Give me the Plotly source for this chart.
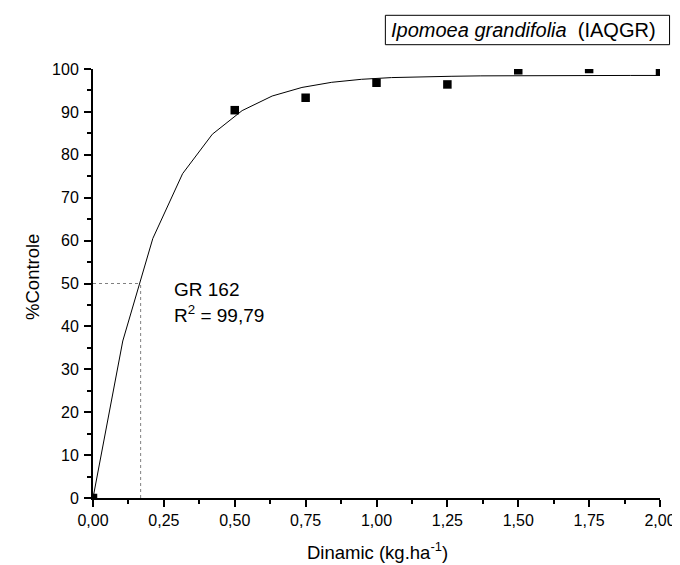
import plotly.graph_objects as go

# ---- data ----
dose_obs = [0.0, 0.50, 0.75, 1.00, 1.25, 1.50, 1.75, 2.00]
control_obs = [0.0, 90.4, 93.3, 96.8, 96.4, 99.7, 100.0, 99.4]

dose_fit = [0.0, 0.105, 0.211, 0.316, 0.421, 0.526, 0.632, 0.737, 0.842, 0.947,
            1.053, 1.158, 1.263, 1.368, 1.474, 1.579, 1.684, 1.789, 1.895, 2.0]
control_fit = [0.0, 36.6, 60.5, 75.6, 84.8, 90.3, 93.7, 95.7, 96.9, 97.6,
               98.0, 98.2, 98.3, 98.4, 98.45, 98.5, 98.5, 98.5, 98.5, 98.5]

gr50_dose = 0.168
gr50_level = 50

x_ticks = [0.0, 0.25, 0.5, 0.75, 1.0, 1.25, 1.5, 1.75, 2.0]
x_ticklabels = ["0,00", "0,25", "0,50", "0,75", "1,00", "1,25", "1,50", "1,75", "2,00"]
y_ticks = [0, 10, 20, 30, 40, 50, 60, 70, 80, 90, 100]

title_text = "<i>Ipomoea grandifolia</i>&nbsp; (IAQGR)"
gr_text = "GR 162"
r2_text = "R<sup>2</sup> = 99,79"
x_title = "Dinamic (kg.ha<sup>-1</sup>)"
y_title = "%Controle"

# ---- layout geometry (pixels) ----
W, H = 680, 565
ML, MR, MT, MB = 85, 19, 61, 75
L, R, T, B = ML, W - MR, MT, H - MB


def px_x(px):
    return (px - L) / (R - L)


def px_y(py):
    return (B - py) / (B - T)


FONT = "Liberation Sans, Arial, sans-serif"

fig = go.Figure()

fig.add_trace(go.Scatter(
    x=dose_fit, y=control_fit, mode="lines",
    line=dict(color="black", width=1), showlegend=False, hoverinfo="skip"))

fig.add_trace(go.Scatter(
    x=dose_obs, y=control_obs, mode="markers",
    marker=dict(symbol="square", size=8.5, color="black", line=dict(width=0)),
    showlegend=False, cliponaxis=True))

# GR50 guide lines
fig.add_shape(type="line", xref="x", yref="y", x0=0, x1=gr50_dose, y0=gr50_level, y1=gr50_level,
              line=dict(color="#808080", width=1, dash="dot"), layer="below")
fig.add_shape(type="line", xref="x", yref="y", x0=gr50_dose, x1=gr50_dose, y0=0, y1=gr50_level,
              line=dict(color="#808080", width=1, dash="dot"), layer="below")

# title box
fig.add_shape(type="rect", xref="paper", yref="paper",
              x0=px_x(382), x1=px_x(670.7), y0=px_y(36.7), y1=px_y(7.3),
              line=dict(color="black", width=1), fillcolor="white")
fig.add_annotation(x=px_x(386), y=px_y(22), xref="paper", yref="paper",
                   text=title_text, showarrow=False, xanchor="left", yanchor="middle",
                   font=dict(family=FONT, size=20, color="black"))

# GR / R2 text
fig.add_annotation(x=px_x(165), y=px_y(281), xref="paper", yref="paper",
                   text=gr_text, showarrow=False, xanchor="left", yanchor="middle",
                   font=dict(family=FONT, size=19, color="black"))
fig.add_annotation(x=px_x(165), y=px_y(306), xref="paper", yref="paper",
                   text=r2_text, showarrow=False, xanchor="left", yanchor="middle",
                   font=dict(family=FONT, size=19, color="black"))

# axis titles
fig.add_annotation(x=px_x(374), y=px_y(543), xref="paper", yref="paper",
                   text=x_title, showarrow=False, xanchor="center", yanchor="middle",
                   font=dict(family=FONT, size=18.5, color="black"))
fig.add_annotation(x=px_x(23), y=px_y(269), xref="paper", yref="paper",
                   text=y_title, showarrow=False, xanchor="center", yanchor="middle",
                   textangle=-90, font=dict(family=FONT, size=18.5, color="black"))

fig.update_xaxes(
    range=[0, 2], tickvals=x_ticks, ticktext=x_ticklabels,
    showline=True, linecolor="black", linewidth=2, mirror=False,
    ticks="outside", ticklen=7, tickwidth=1.5, tickcolor="black",
    showgrid=False, zeroline=False,
    tickfont=dict(family=FONT, size=16, color="black"),
    minor=dict(ticks="outside", ticklen=4, tickwidth=1.5, tickcolor="black", dtick=0.125, showgrid=False),
)
fig.update_yaxes(
    range=[0, 100], tickvals=y_ticks,
    showline=True, linecolor="black", linewidth=2, mirror=False,
    ticks="outside", ticklen=7, tickwidth=1.5, tickcolor="black",
    showgrid=False, zeroline=False, ticklabelstandoff=2,
    tickfont=dict(family=FONT, size=16, color="black"),
    minor=dict(ticks="outside", ticklen=4, tickwidth=1.5, tickcolor="black", dtick=5, showgrid=False),
)

fig.update_layout(
    width=W, height=H,
    margin=dict(l=ML, r=MR, t=MT, b=MB, pad=0),
    paper_bgcolor="white", plot_bgcolor="white",
    showlegend=False,
)

fig.write_html("out.html")
